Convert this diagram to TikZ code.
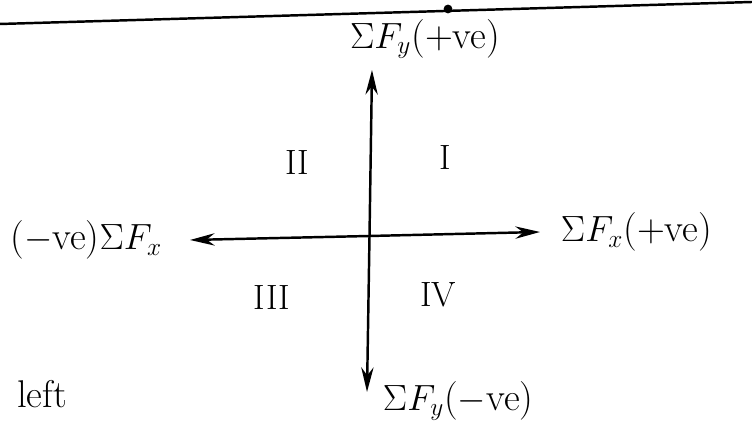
\documentclass[tikz,border=0pt]{standalone}
\usepackage{amsmath,amssymb}
\usetikzlibrary{arrows.meta, positioning}

\begin{document}
\begin{tikzpicture}[>={Stealth[length=14pt,width=7pt]}, line width=1.4pt,
    lbl/.style={font=\fontsize{22}{26}\selectfont, inner sep=1pt},
    quad/.style={font=\fontsize{20}{24}\selectfont, inner sep=1pt}]
    \useasboundingbox (0,0) rectangle (15.04,8.5);

    % page edge line with dot
    \coordinate (edgeL) at (0,8.02);
    \coordinate (edgeR) at (15.04,8.46);
    \coordinate (dot) at (8.96,8.32);
    \draw (edgeL) -- (edgeR);
    \fill (dot) circle (2.5pt);

    % axes
    \coordinate (ytop) at (7.44,7.1);
    \coordinate (ybot) at (7.34,0.66);
    \coordinate (xleft) at (3.8,3.7);
    \coordinate (xright) at (10.8,3.86);
    \coordinate (origin) at (7.39,3.78);

    \path[->]
        (origin) edge (ytop)
                 edge (ybot)
                 edge (xleft)
                 edge (xright);

    % axis labels
    \node[lbl] (fyp) at (8.5,7.72) {$\Sigma F_y$(+ve)};
    \node[lbl, anchor=east] (fxn) at (3.3,3.7) {($-$ve)$\Sigma F_x$};
    \node[lbl, anchor=west] (fxp) at (11.16,3.86) {$\Sigma F_x$(+ve)};
    \node[lbl, anchor=west] (fyn) at (7.6,0.48) {$\Sigma F_y$($-$ve)};
    \node[lbl] (lft) at (0.84,0.62) {left};

    % quadrants
    \node[quad] (q1) at (8.9,5.34) {I};
    \node[quad] (q2) at (5.94,5.24) {II};
    \node[quad] (q3) at (5.44,2.54) {III};
    \node[quad] (q4) at (8.76,2.6) {IV};
\end{tikzpicture}
\end{document}
